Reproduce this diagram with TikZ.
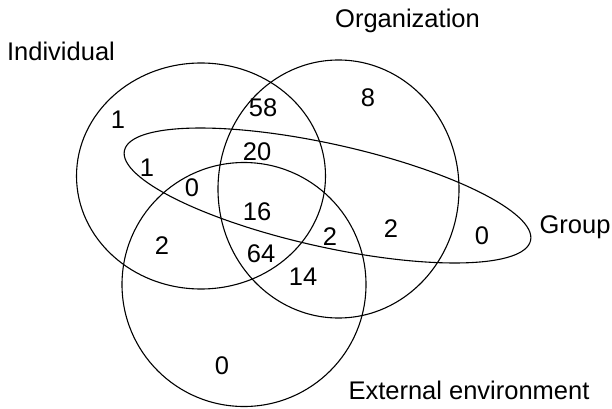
\documentclass[tikz,border=0pt]{standalone}
\usepackage{fontspec}
\setmainfont{Liberation Sans}
\begin{document}
\begin{tikzpicture}[x=1pt,y=1pt,
		set/.style={line width=1.1pt},
		lbl/.style={inner sep=0pt,font=\fontsize{25.5}{30}\selectfont}]
			\useasboundingbox (0,0) rectangle (612,408);
			% the four sets
			\draw[set] (201,232) ellipse [x radius=124.5, y radius=113];
			\draw[set] (338.5,219) ellipse [x radius=120.5, y radius=129];
			\draw[set] (244,123.5) circle [radius=122];
			\draw[set] (327.5,212.5) ellipse [x radius=208, y radius=51.5, rotate=-12.5];
			% set names
			\node[lbl,anchor=base] (indiv) at (61,348) {Individual};
			\node[lbl,anchor=base] (organ) at (407.5,381) {Organization};
			\node[lbl,anchor=base] (group) at (575,175) {Group};
			\node[lbl,anchor=base] (extern) at (469,9) {External environment};
			% counts
			\node[lbl] (iOnly) at (118,288) {1};
			\node[lbl] (ioOnly) at (263,300) {58};
			\node[lbl] (oOnly) at (368,310) {8};
			\node[lbl] (iog) at (257,256) {20};
			\node[lbl] (ig) at (147,240) {1};
			\node[lbl] (ige) at (192,220) {0};
			\node[lbl] (all) at (257,196) {16};
			\node[lbl] (ie) at (162,162) {2};
			\node[lbl] (ioe) at (261,154) {64};
			\node[lbl] (oge) at (330,171) {2};
			\node[lbl] (og) at (391,179) {2};
			\node[lbl] (gOnly) at (482,172) {0};
			\node[lbl] (oe) at (303,131) {14};
			\node[lbl] (eOnly) at (222,42) {0};
		\end{tikzpicture}
\end{document}
